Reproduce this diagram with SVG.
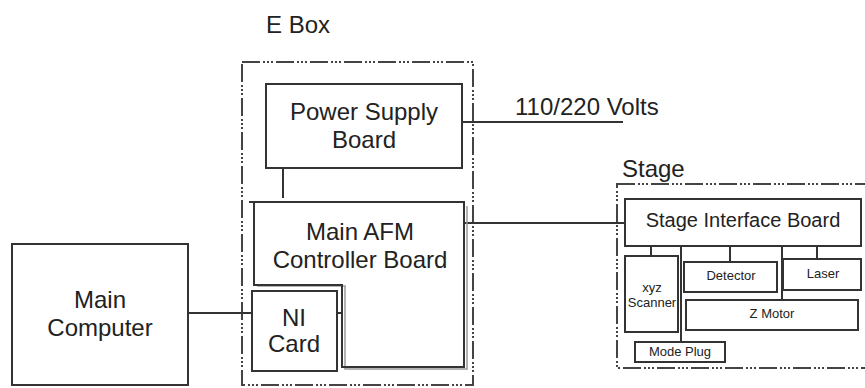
<svg xmlns="http://www.w3.org/2000/svg" width="865" height="388" viewBox="0 0 865 388">
<style>
  text { font-family: "Liberation Sans", Arial, sans-serif; fill: #222; }
  .big { font-size: 24px; text-anchor: middle; }
  .mid { font-size: 20px; text-anchor: middle; }
  .sm { font-size: 13px; text-anchor: middle; }
  .title { font-size: 24px; }
  .box { fill: none; stroke: #333; stroke-width: 2; }
  .dash { fill: none; stroke: #444; stroke-width: 2; stroke-dasharray: 18 3 2 2 2 2 2 3; }
  .wire { fill: none; stroke: #333; stroke-width: 2; }
  .shadow { fill: none; stroke: #999; stroke-width: 1.5; }
</style>
<rect width="865" height="388" fill="#fff"/>

<g id="ebox">
  <rect class="dash" x="242" y="62" width="231" height="323"/>
  <text class="title" x="266" y="33">E Box</text>
</g>

<g id="stage">
  <rect class="dash" x="617" y="184" width="260" height="184"/>
  <text class="title" x="622" y="177">Stage</text>
</g>

<g id="connectors">
  <line class="wire" x1="462" y1="122" x2="623" y2="122"/>
  <line class="wire" x1="283" y1="168" x2="283" y2="198"/>
  <line class="wire" x1="249" y1="202" x2="285" y2="202"/>
  <line class="wire" x1="464" y1="223" x2="625" y2="223"/>
  <line class="wire" x1="188" y1="313" x2="252" y2="313"/>
  <line class="wire" x1="337" y1="313" x2="342" y2="313"/>
  <line class="wire" x1="651" y1="246" x2="651" y2="256"/>
  <line class="wire" x1="681" y1="246" x2="681" y2="342"/>
  <line class="wire" x1="730" y1="246" x2="730" y2="262"/>
  <line class="wire" x1="782" y1="246" x2="782" y2="300"/>
  <line class="wire" x1="817" y1="246" x2="817" y2="259"/>
</g>

<g id="power-supply">
  <rect class="box" x="266" y="84" width="196" height="84"/>
  <text class="big" x="364" y="120">Power Supply</text>
  <text class="big" x="364" y="148">Board</text>
</g>

<g id="main-afm">
  <path class="shadow" d="M257 286 H345 V369 H467 V206"/>
  <path class="box" d="M254 202 H464 V367 H342 V285 H254 Z"/>
  <text class="big" x="360" y="240">Main AFM</text>
  <text class="big" x="360" y="268">Controller Board</text>
</g>

<g id="ni-card">
  <rect class="box" x="252" y="291" width="85" height="80" fill="#fff"/>
  <text class="big" x="294" y="326">NI</text>
  <text class="big" x="294" y="352">Card</text>
</g>

<g id="main-computer">
  <rect class="box" x="12" y="244" width="176" height="141"/>
  <text class="big" x="100" y="308">Main</text>
  <text class="big" x="100" y="336">Computer</text>
</g>

<g id="stage-interface">
  <rect class="box" x="625" y="199" width="236" height="47"/>
  <text class="mid" x="743" y="227">Stage Interface Board</text>
</g>

<g id="xyz-scanner">
  <rect class="box" x="625" y="256" width="53" height="76"/>
  <text class="sm" x="652" y="292">xyz</text>
  <text class="sm" x="652" y="307">Scanner</text>
</g>

<g id="detector">
  <rect class="box" x="684" y="262" width="93" height="30"/>
  <text class="sm" x="731" y="280">Detector</text>
</g>

<g id="laser">
  <rect class="box" x="783" y="259" width="78" height="31"/>
  <text class="sm" x="823" y="278">Laser</text>
</g>

<g id="z-motor">
  <rect class="box" x="686" y="300" width="172" height="30"/>
  <text class="sm" x="772" y="318">Z Motor</text>
</g>

<g id="mode-plug">
  <rect class="box" x="635" y="342" width="90" height="20"/>
  <text class="sm" x="680" y="356">Mode Plug</text>
</g>

<text x="515" y="115" style="font-size:24px">110/220 Volts</text>
</svg>
